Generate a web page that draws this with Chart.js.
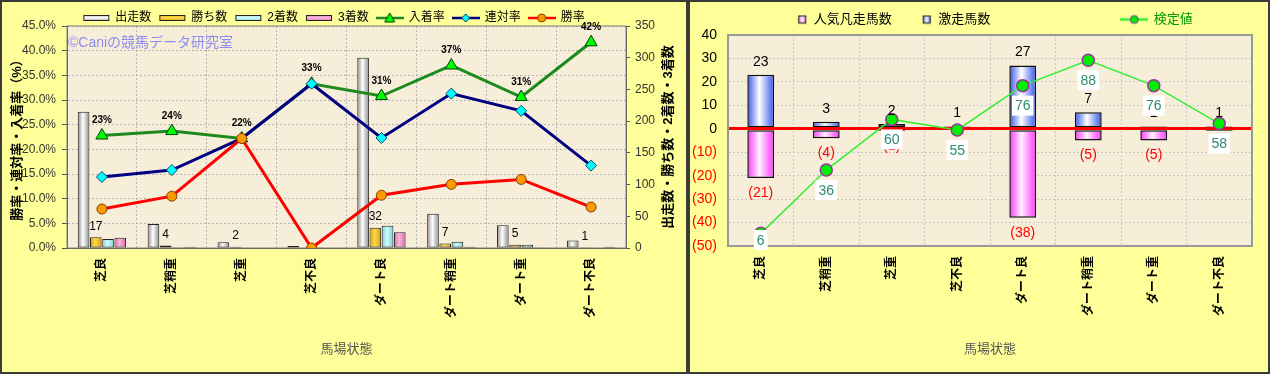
<!DOCTYPE html>
<html>
<head>
<meta charset="utf-8">
<script src="https://cdn.jsdelivr.net/npm/chart.js@4.4.0/dist/chart.umd.min.js"></script>
<style>
html, body { margin: 0; padding: 0; background: #fff; }
#wrap { position: relative; width: 1270px; height: 374px; }
#c1 { position: absolute; left: 0; top: 0; width: 688px; height: 374px; }
#c2 { position: absolute; left: 688px; top: 0; width: 582px; height: 374px; }
</style>
</head>
<body>
<div id="wrap">
  <canvas id="c1" width="688" height="374"></canvas>
  <canvas id="c2" width="582" height="374"></canvas>
</div>
<script>
// categories
const labels = ['芝良', '芝稍重', '芝重', '芝不良', 'ダート良', 'ダート稍重', 'ダート重', 'ダート不良'];

// left chart: counts (right axis) and rates in % (left axis)
const starts  = [215, 38, 9, 3, 300, 54, 36, 12];   // 出走数
const wins    = [17, 4, 2, 0, 32, 7, 5, 1];         // 勝ち数
const seconds = [14, 1, 0, 1, 35, 10, 5, 0];        // 2着数
const thirds  = [16, 2, 0, 0, 25, 2, 1, 2];         // 3着数
const placeRate  = [22.8, 23.7, 22.2, 33.3, 30.8, 37.0, 30.6, 41.7]; // 入着率
const rentaiRate = [14.4, 15.8, 22.2, 33.3, 22.3, 31.3, 27.8, 16.7]; // 連対率
const winRate    = [7.9, 10.5, 22.2, 0, 10.7, 12.9, 13.9, 8.3];      // 勝率
const pctTicks   = [0, 5, 10, 15, 20, 25, 30, 35, 40, 45];
const countTicks = [0, 50, 100, 150, 200, 250, 300, 350];

// right chart
const flopCount  = [-21, -4, -1, 0, -38, -5, -5, -1]; // 人気凡走馬数
const upsetCount = [23, 3, 2, 1, 27, 7, 1, 1];        // 激走馬数
const testValue  = [6, 36, 60, 55, 76, 88, 76, 58];   // 検定値
const diffTicks  = [-50, -40, -30, -20, -10, 0, 10, 20, 30, 40];

const F = '"Liberation Sans", "Noto Sans CJK JP", sans-serif';

// cylinder-like horizontal gradient for each bar
function barGradient(edge, mid, slots, slot, cp, bp) {
  return function (c) {
    const chart = c.chart;
    const xs = chart.scales.x;
    if (c.type !== 'data' || !xs) return edge;
    const catW = xs.width / labels.length;
    const group = catW * cp;
    const step = group / slots;
    const left = xs.getPixelForValue(c.dataIndex) - group / 2 + step * slot + step * (1 - bp) / 2;
    const w = step * bp;
    if (!isFinite(left) || !isFinite(w) || w <= 0) return edge;
    const g = chart.ctx.createLinearGradient(left, 0, left + w, 0);
    g.addColorStop(0, edge);
    g.addColorStop(0.45, mid);
    g.addColorStop(1, edge);
    return g;
  };
}

// legend icons
function pillIcon(edge, mid) {
  const cv = document.createElement('canvas');
  cv.width = 28; cv.height = 8;
  const g = cv.getContext('2d');
  const gr = g.createLinearGradient(0, 0, 0, 8);
  gr.addColorStop(0, edge); gr.addColorStop(0.45, mid); gr.addColorStop(1, edge);
  g.fillStyle = gr;
  g.fillRect(1, 1, 26, 6);
  g.strokeStyle = '#222'; g.lineWidth = 1;
  g.strokeRect(1.5, 1.5, 25, 5);
  return cv;
}
function lineIcon(color, marker, fill, border) {
  const cv = document.createElement('canvas');
  cv.width = 28; cv.height = 12;
  const g = cv.getContext('2d');
  g.strokeStyle = color; g.lineWidth = 2.5;
  g.beginPath(); g.moveTo(0, 6); g.lineTo(28, 6); g.stroke();
  g.fillStyle = fill; g.strokeStyle = border; g.lineWidth = 1;
  g.beginPath();
  if (marker === 'triangle') { g.moveTo(14, 1); g.lineTo(19, 10); g.lineTo(9, 10); g.closePath(); }
  else if (marker === 'diamond') { g.moveTo(14, 2); g.lineTo(18, 6); g.lineTo(14, 10); g.lineTo(10, 6); g.closePath(); }
  else { g.arc(14, 6, 4, 0, Math.PI * 2); }
  g.fill(); g.stroke();
  return cv;
}
function squareIcon(edge, mid) {
  const cv = document.createElement('canvas');
  cv.width = 26; cv.height = 10;
  const g = cv.getContext('2d');
  const gr = g.createLinearGradient(17, 0, 25, 0);
  gr.addColorStop(0, edge); gr.addColorStop(0.5, mid); gr.addColorStop(1, edge);
  g.fillStyle = gr; g.fillRect(17, 1, 8, 8);
  g.strokeStyle = '#333'; g.lineWidth = 1.2; g.strokeRect(17.5, 1.5, 7, 7);
  return cv;
}

const leftIcons = [
  pillIcon('#8c8c8c', '#ffffff'),
  pillIcon('#d9a000', '#ffd84a'),
  pillIcon('#7fd0da', '#d0fafa'),
  pillIcon('#d868a8', '#f8b8dc'),
  lineIcon('#1c8a1c', 'triangle', '#00ff00', '#004000'),
  lineIcon('#000080', 'diamond', '#00ffff', '#004060'),
  lineIcon('#ff0000', 'circle', '#ff9900', '#804000')
];
const rightIcons = [
  squareIcon('#ff55ff', '#ffffff'),
  squareIcon('#4466ee', '#ffffff'),
  lineIcon('#33ee33', 'circle', '#00ee00', '#993399')
];

// fixed legend height and offset (box is moved, so the legend clip moves with it)
const fixLegend = {
  id: 'fixLegend',
  beforeLayout(chart, args, o) {
    const lg = chart.legend;
    if (!lg || lg.$fixed) return;
    const fit = lg.fit;
    lg.fit = function () { fit.call(this); this.height = o.height; };
    const draw = lg.draw;
    lg.draw = function () {
      const t = this.top, b = this.bottom, l = this.left, r = this.right;
      this.top = t + o.dy; this.bottom = t + o.dy + 100;
      this.left = l + o.dx; this.right = r + o.dx;
      draw.call(this);
      this.top = t; this.bottom = b; this.left = l; this.right = r;
    };
    lg.$fixed = true;
  }
};

// backgrounds and frames
const frame = {
  id: 'frame',
  beforeDraw(chart) {
    const {ctx, width, height, chartArea: a} = chart;
    ctx.save();
    ctx.fillStyle = '#ffff99';
    ctx.fillRect(0, 0, width, height);
    ctx.fillStyle = '#f7eeda';
    ctx.fillRect(a.left, a.top, a.right - a.left, a.bottom - a.top);
    ctx.restore();
  },
  beforeDatasetsDraw(chart, args, o) {
    const {ctx, chartArea: a} = chart;
    ctx.save();
    ctx.strokeStyle = o.plotColor; ctx.lineWidth = o.plotWidth;
    ctx.strokeRect(a.left, a.top, a.right - a.left, a.bottom - a.top);
    if (o.mark) {
      ctx.fillStyle = '#8c8cf0';
      ctx.font = '14px ' + F;
      ctx.textBaseline = 'middle';
      ctx.fillText(o.mark, a.left + 1, a.top + 17);
    }
    ctx.restore();
  },
  afterDraw(chart) {
    const {ctx, width, height} = chart;
    ctx.save();
    ctx.strokeStyle = '#3a3a3a'; ctx.lineWidth = 2;
    ctx.strokeRect(1, 1, width - 2, height - 2);
    ctx.restore();
  }
};

// right-side axis title, reading bottom to top
const sideTitle = {
  id: 'sideTitle',
  afterDraw(chart, args, o) {
    if (!o.text) return;
    const {ctx, chartArea: a} = chart;
    ctx.save();
    ctx.translate(o.x, (a.top + a.bottom) / 2);
    ctx.rotate(-Math.PI / 2);
    ctx.font = 'bold 13px ' + F;
    ctx.fillStyle = '#000';
    ctx.textAlign = 'center';
    ctx.textBaseline = 'middle';
    ctx.fillText(o.text, 0, 0);
    ctx.restore();
  }
};

const leftLabels = {
  id: 'leftLabels',
  afterDatasetsDraw(chart) {
    const ctx = chart.ctx;
    ctx.save();
    ctx.textAlign = 'center';
    ctx.textBaseline = 'bottom';
    ctx.fillStyle = '#000';
    ctx.font = '12px ' + F;
    chart.getDatasetMeta(1).data.forEach((el, i) => {
      if (wins[i]) ctx.fillText(String(wins[i]), el.x, el.y - 5);
    });
    ctx.font = 'bold 10px ' + F;
    chart.getDatasetMeta(4).data.forEach((el, i) => {
      ctx.fillText(Math.round(placeRate[i]) + '%', el.x, el.y - 10);
    });
    ctx.restore();
  }
};

const rightLabels = {
  id: 'rightLabels',
  afterDatasetsDraw(chart) {
    const ctx = chart.ctx;
    const a = chart.chartArea;
    ctx.save();
    ctx.textAlign = 'center';
    ctx.font = '14px ' + F;
    ctx.fillStyle = '#000';
    ctx.textBaseline = 'bottom';
    chart.getDatasetMeta(1).data.forEach((el, i) => {
      if (upsetCount[i]) ctx.fillText(String(upsetCount[i]), el.x, el.y - 6);
    });
    ctx.fillStyle = '#ff0000';
    ctx.textBaseline = 'top';
    chart.getDatasetMeta(0).data.forEach((el, i) => {
      if (flopCount[i]) ctx.fillText('(' + (-flopCount[i]) + ')', el.x, el.y + 8);
    });
    ctx.textBaseline = 'middle';
    chart.getDatasetMeta(2).data.forEach((el, i) => {
      const t = String(testValue[i]);
      const w = ctx.measureText(t).width + 6;
      const y = Math.min(el.y + 20, a.bottom - 6);
      ctx.fillStyle = '#ffffff';
      ctx.fillRect(el.x - w / 2, y - 10, w, 20);
      ctx.fillStyle = '#2e8b6e';
      ctx.fillText(t, el.x, y + 1);
    });
    ctx.restore();
  }
};

const xTicksFont = {size: 12, weight: 'bold', family: F};

new Chart(document.getElementById('c1'), {
  type: 'bar',
  data: {
    labels: labels,
    datasets: [
      {label: '出走数', data: starts, yAxisID: 'y1', order: 3,
       backgroundColor: barGradient('#8c8c8c', '#ffffff', 4, 0, 0.7, 0.95)},
      {label: '勝ち数', data: wins, yAxisID: 'y1', order: 3,
       backgroundColor: barGradient('#d9a000', '#ffd84a', 4, 1, 0.7, 0.95)},
      {label: '2着数', data: seconds, yAxisID: 'y1', order: 3,
       backgroundColor: barGradient('#7fd0da', '#d0fafa', 4, 2, 0.7, 0.95)},
      {label: '3着数', data: thirds, yAxisID: 'y1', order: 3,
       backgroundColor: barGradient('#d868a8', '#f8b8dc', 4, 3, 0.7, 0.95)},
      {type: 'line', label: '入着率', data: placeRate, yAxisID: 'y', order: 2,
       borderColor: '#1c8a1c', borderWidth: 3, pointStyle: 'triangle', pointRadius: 7,
       pointBackgroundColor: '#00ff00', pointBorderColor: '#004000', pointBorderWidth: 1},
      {type: 'line', label: '連対率', data: rentaiRate, yAxisID: 'y', order: 1,
       borderColor: '#000080', borderWidth: 3, pointStyle: 'rectRot', pointRadius: 5.5,
       pointBackgroundColor: '#00ffff', pointBorderColor: '#005070', pointBorderWidth: 1},
      {type: 'line', label: '勝率', data: winRate, yAxisID: 'y', order: 0,
       borderColor: '#ff0000', borderWidth: 3, pointStyle: 'circle', pointRadius: 5,
       pointBackgroundColor: '#ff9900', pointBorderColor: '#804000', pointBorderWidth: 1}
    ]
  },
  options: {
    responsive: false,
    animation: false,
    layout: {padding: 0},
    categoryPercentage: 0.7,
    barPercentage: 0.95,
    datasets: {bar: {borderColor: '#222', borderWidth: 1, borderSkipped: false}, line: {tension: 0}},
    scales: {
      x: {
        grid: {color: '#b4b4b4', drawTicks: false},
        border: {dash: [2, 2], color: '#555', width: 1},
        ticks: {minRotation: 90, maxRotation: 90, padding: 10, color: '#000', font: xTicksFont},
        title: {display: true, text: '馬場状態', color: '#555', font: {size: 13, family: F}, padding: {top: 0, bottom: 17}},
        afterFit(s) { s.height = 126; }
      },
      y: {
        position: 'left', min: 0, max: 45,
        afterBuildTicks(s) { s.ticks = pctTicks.map(v => ({value: v})); },
        ticks: {callback: v => v.toFixed(1) + '%', color: '#333', font: {size: 12, family: F}, padding: 6},
        grid: {color: '#b4b4b4', tickLength: 5, tickColor: '#555'},
        border: {dash: [2, 2], color: '#555', width: 1},
        title: {display: true, text: '勝率・連対率・入着率（%）', color: '#000',
                font: {size: 13, weight: 'bold', family: F}, padding: {top: 10, bottom: 0}},
        afterFit(s) { s.width = 67; }
      },
      y1: {
        position: 'right', min: 0, max: 350,
        afterBuildTicks(s) { s.ticks = countTicks.map(v => ({value: v})); },
        ticks: {color: '#333', font: {size: 12, family: F}, padding: 5},
        grid: {drawOnChartArea: false, tickLength: 4, tickColor: '#555'},
        border: {color: '#555', width: 1},
        afterFit(s) { s.width = 62; }
      }
    },
    plugins: {
      tooltip: {enabled: false},
      legend: {
        labels: {
          usePointStyle: true, pointStyleWidth: 26, padding: 8, color: '#000',
          font: {size: 12, family: F},
          sort: (a, b) => a.datasetIndex - b.datasetIndex,
          generateLabels(chart) {
            const items = Chart.defaults.plugins.legend.labels.generateLabels(chart);
            items.forEach(it => { it.pointStyle = leftIcons[it.datasetIndex]; });
            return items;
          }
        }
      },
      fixLegend: {height: 26, dx: -10, dy: 4},
      frame: {plotColor: '#808080', plotWidth: 1, mark: '©Caniの競馬データ研究室'},
      sideTitle: {text: '出走数・勝ち数・2着数・3着数', x: 668}
    }
  },
  plugins: [fixLegend, frame, sideTitle, leftLabels]
});

new Chart(document.getElementById('c2'), {
  type: 'bar',
  data: {
    labels: labels,
    datasets: [
      {label: '人気凡走馬数', data: flopCount, order: 1,
       backgroundColor: barGradient('#ff33ff', '#fff0ff', 1, 0, 0.5, 0.82)},
      {label: '激走馬数', data: upsetCount, order: 1,
       backgroundColor: barGradient('#3355ee', '#ffffff', 1, 0, 0.5, 0.82)},
      {type: 'line', label: '検定値', data: testValue, yAxisID: 'y2', order: 0,
       borderColor: '#33ee33', borderWidth: 1.5, pointStyle: 'circle', pointRadius: 6,
       pointBackgroundColor: '#00ee00', pointBorderColor: '#993399', pointBorderWidth: 1.5, tension: 0}
    ]
  },
  options: {
    responsive: false,
    animation: false,
    layout: {padding: {left: 0, right: 18, top: 0, bottom: 0}},
    categoryPercentage: 0.5,
    barPercentage: 0.82,
    datasets: {bar: {borderColor: '#111', borderWidth: 1.5, borderSkipped: false}},
    scales: {
      x: {
        stacked: true,
        grid: {color: '#c8c8c8', drawTicks: false},
        border: {dash: [2, 2], color: '#999', width: 2},
        ticks: {minRotation: 90, maxRotation: 90, padding: 10, color: '#000', font: xTicksFont},
        title: {display: true, text: '馬場状態', color: '#555', font: {size: 13, family: F}, padding: {top: 0, bottom: 17}},
        afterFit(s) { s.height = 128; }
      },
      y: {
        stacked: true, min: -50, max: 40,
        afterBuildTicks(s) { s.ticks = diffTicks.map(v => ({value: v})); },
        ticks: {
          callback: v => v < 0 ? '(' + (-v) + ')' : String(v),
          color: c => c.tick && c.tick.value < 0 ? '#ff0000' : '#000',
          font: {size: 14, family: F}, padding: 11
        },
        grid: {
          drawTicks: false,
          color: c => c.tick && c.tick.value === 0 ? '#ff0000' : '#c8c8c8',
          lineWidth: c => c.tick && c.tick.value === 0 ? 3 : 1
        },
        border: {dash: c => c.tick && c.tick.value === 0 ? [] : [2, 2], color: '#999', width: 2},
        afterFit(s) { s.width = 40; }
      },
      y2: {display: false, min: 0, max: 100}
    },
    plugins: {
      tooltip: {enabled: false},
      legend: {
        labels: {
          usePointStyle: true, pointStyleWidth: 26, padding: 14, color: '#000',
          font: {size: 13, family: F},
          sort: (a, b) => a.datasetIndex - b.datasetIndex,
          generateLabels(chart) {
            const items = Chart.defaults.plugins.legend.labels.generateLabels(chart);
            items.forEach(it => {
              it.pointStyle = rightIcons[it.datasetIndex];
              if (it.datasetIndex === 1) it.text = it.text + '\u3000'.repeat(9);
              if (it.datasetIndex === 2) it.fontColor = '#009900';
            });
            return items;
          }
        }
      },
      fixLegend: {height: 35, dx: 17, dy: -1},
      frame: {plotColor: '#999999', plotWidth: 2, mark: ''}
    }
  },
  plugins: [fixLegend, frame, rightLabels]
});
</script>
</body>
</html>
